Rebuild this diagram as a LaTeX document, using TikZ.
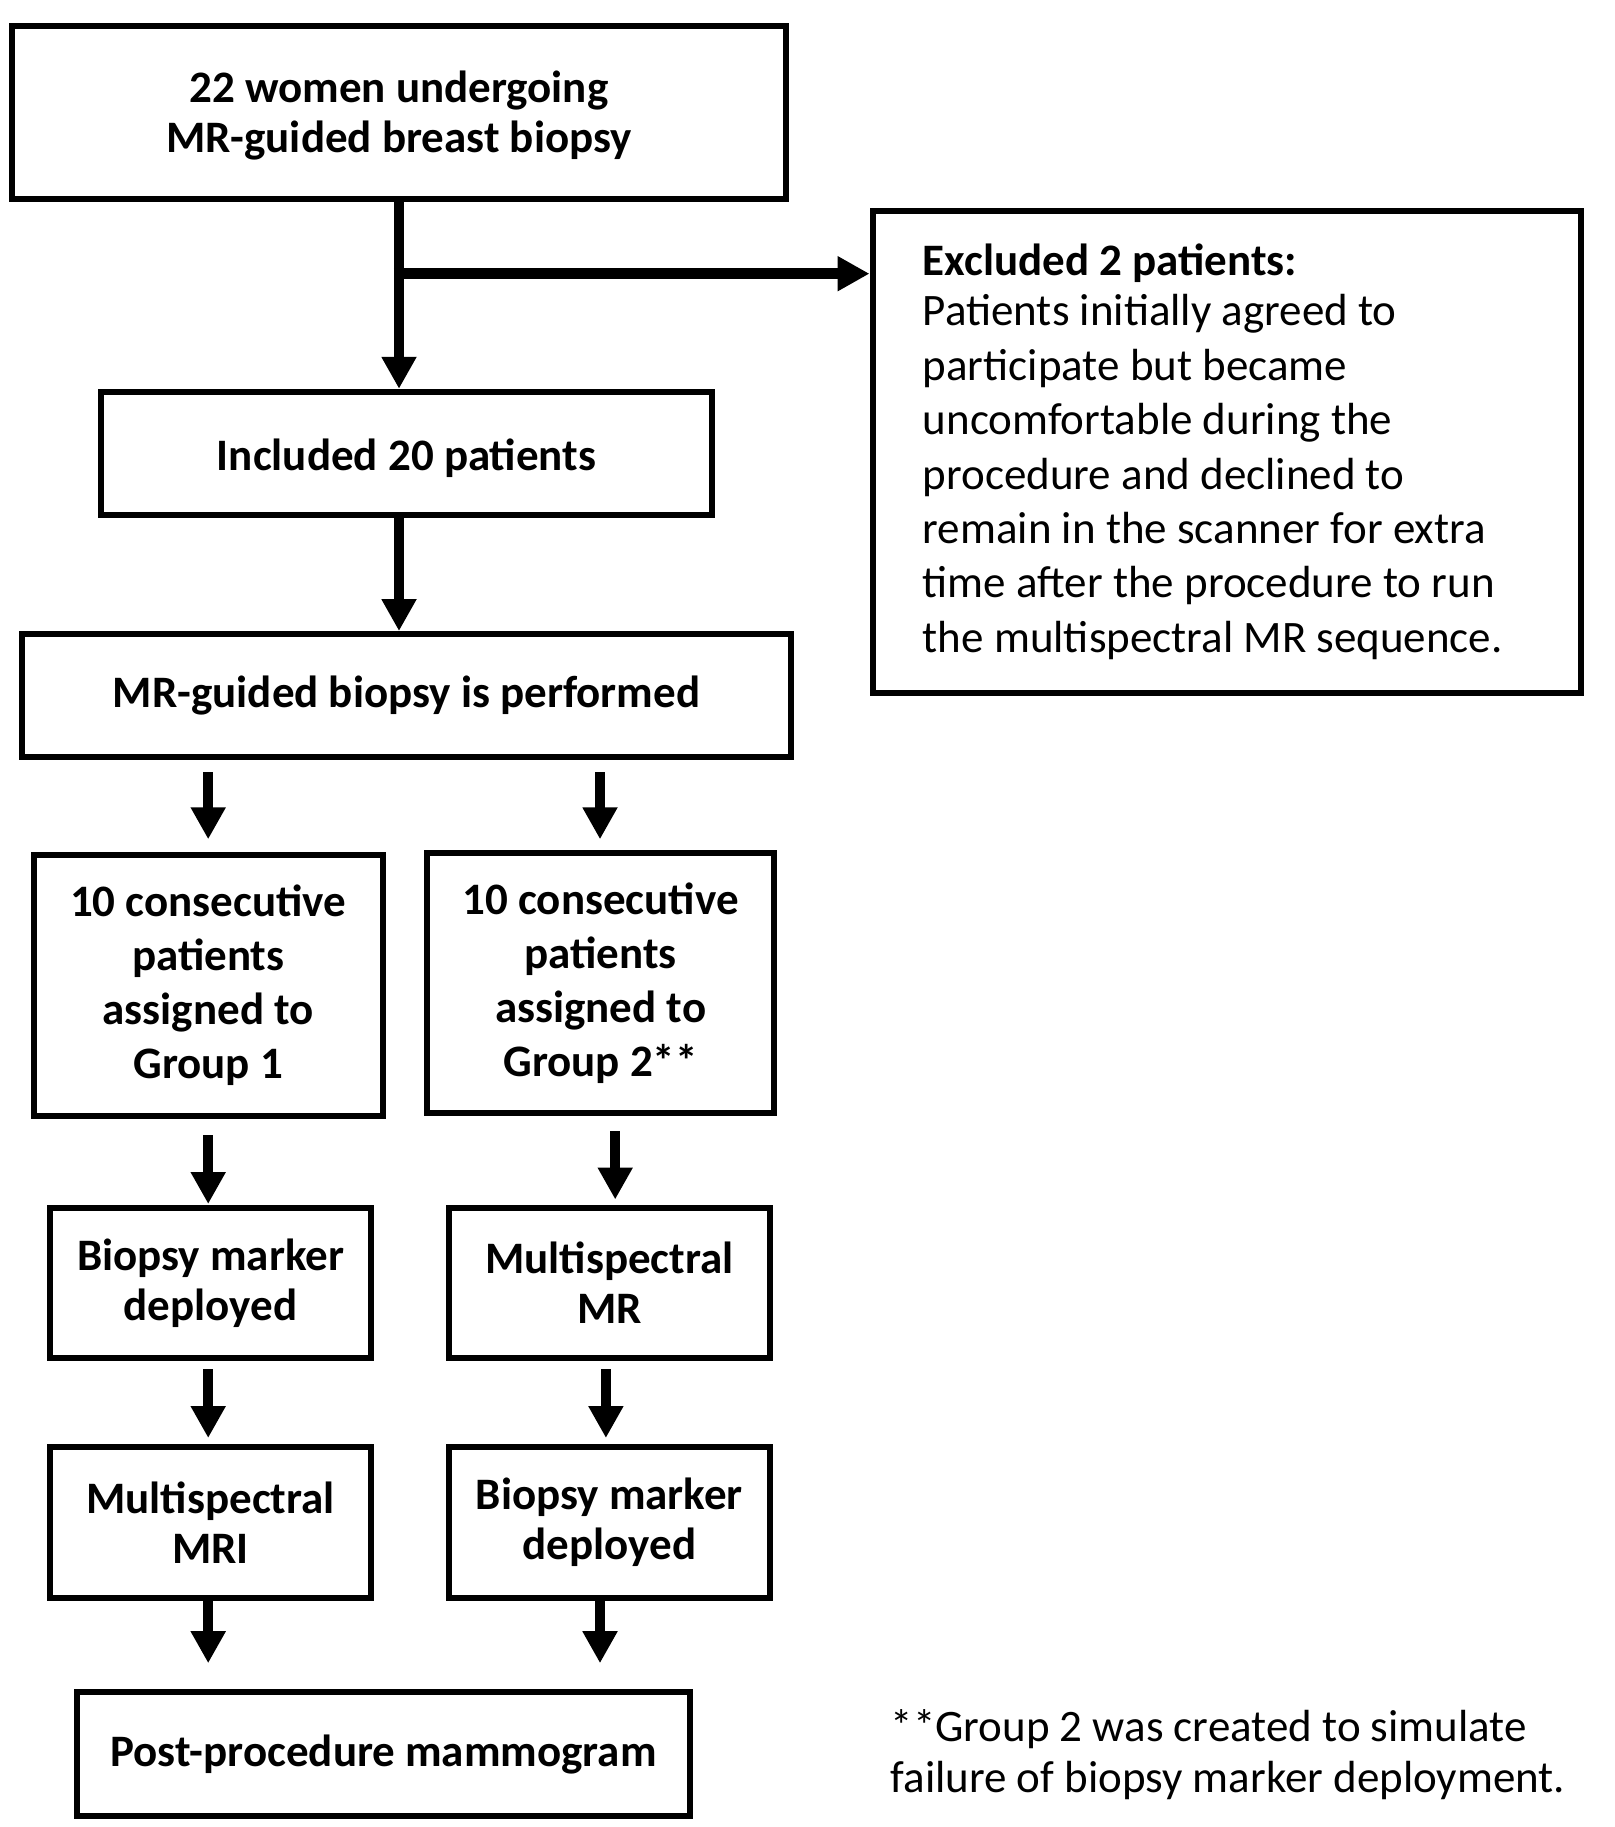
\documentclass[tikz,border=0pt]{standalone}
\usepackage{fontspec}
\setmainfont{Carlito}
\usetikzlibrary{arrows.meta}
\begin{document}
\begin{tikzpicture}[x=1pt,y=-1pt,
  box/.style={draw, line width=6pt, inner sep=0pt, align=center,
    font=\bfseries\fontsize{45}{50}\selectfont},
  grp/.style={box, font=\bfseries\fontsize{45}{54}\selectfont},
  arr/.style={line width=10.5pt, -{Triangle[width=33pt,length=32pt]}}]
\useasboundingbox (0,0) rectangle (1614,1827);
% boxes
\node[box, minimum width=774.3pt, minimum height=173.1pt] (b1) at (398.9,112.3) {\rule{0pt}{39pt}22 women undergoing\\MR-guided breast biopsy};
\node[box, minimum width=611.7pt, minimum height=122.8pt] (b2) at (406.5,453.2) {\rule{0pt}{41pt}Included 20 patients};
\node[box, minimum width=768.5pt, minimum height=122.7pt] (b3) at (406.5,695.4) {MR-guided biopsy is performed};
\node[grp, minimum width=348.6pt, minimum height=260.8pt] (b4) at (208.2,985.4) {10 consecutive\\patients\\assigned to\\Group 1};
\node[grp, minimum width=347.4pt, minimum height=260.9pt] (b5) at (600.6,983) {10 consecutive\\patients\\assigned to\\Group 2**};
\node[box, minimum width=320.5pt, minimum height=149.7pt] (b6) at (210.6,1283) {Biopsy marker\\deployed};
\node[box, minimum width=320.5pt, minimum height=149.7pt] (b7) at (609.4,1283) {Multispectral\\MR};
\node[box, minimum width=320.5pt, minimum height=150.9pt] (b8) at (210.6,1522.3) {Multispectral\\MRI};
\node[box, minimum width=320.5pt, minimum height=150.9pt] (b9) at (609.4,1522.3) {Biopsy marker\\deployed};
\node[box, minimum width=612.8pt, minimum height=124pt] (b10) at (383.6,1754.4) {Post-procedure mammogram};
\node[draw, line width=6pt, minimum width=708.8pt, minimum height=481.8pt,
  text width=608.2pt, inner xsep=50.3pt, inner ysep=0pt, align=left,
  font=\fontsize{45}{54.4}\selectfont] (exc) at (1226.9,451.8)
  {\spaceskip=0pt\xspaceskip=0pt\textbf{Excluded 2 patients:}\\[-4pt]Patients initially agreed to\\participate but became\\uncomfortable during the\\procedure and declined to\\remain in the scanner for extra\\time after the procedure to run\\the multispectral MR sequence.};
\node[anchor=west, align=left, inner sep=0pt, font=\fontsize{45}{51.4}\selectfont] (fn) at (890.4,1754.5)
  {\spaceskip=0pt\xspaceskip=0pt **Group 2 was created to simulate\\failure of biopsy marker deployment.};
% connectors
\coordinate (v1) at (399,198.8);
\coordinate (br) at (399,273.7);
\draw[arr] (v1) -- (v1 |- b2.north);
\draw[line width=10.5pt] (br) -- ([xshift=-20pt]br -| exc.west);
\draw[arr] ([xshift=-5.25pt]br) -- (br -| exc.west);
\draw[arr] (b2.south -| v1) -- (b3.north -| v1);
\coordinate (p1) at (208.2,772); \coordinate (q1) at (208.2,839.3);
\coordinate (p2) at (600,772);   \coordinate (q2) at (600,839.3);
\draw[arr] (p1) -- (q1);
\draw[arr] (p2) -- (q2);
\coordinate (p3) at (208.2,1135); \coordinate (q3) at (208.2,1204);
\coordinate (p4) at (615.2,1131); \coordinate (q4) at (615.2,1199.5);
\draw[arr] (p3) -- (q3);
\draw[arr] (p4) -- (q4);
\coordinate (p5) at (208.2,1369); \coordinate (q5) at (208.2,1438);
\coordinate (p6) at (605.9,1369); \coordinate (q6) at (605.9,1438);
\draw[arr] (p5) -- (q5);
\draw[arr] (p6) -- (q6);
\coordinate (q7) at (208.2,1663.2);
\coordinate (q8) at (600,1663.2);
\draw[arr] (b8.south -| q7) -- (q7);
\draw[arr] (b9.south -| q8) -- (q8);
\end{tikzpicture}
\end{document}
